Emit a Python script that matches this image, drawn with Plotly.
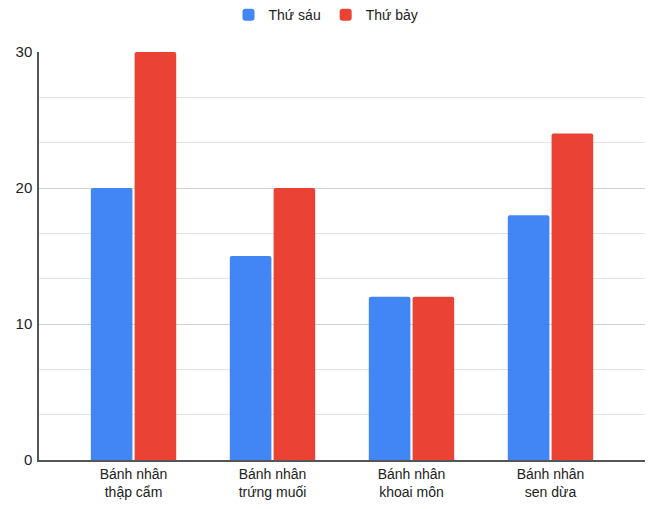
import plotly.graph_objects as go

categories = ["Bánh nhân<br>thập cẩm", "Bánh nhân<br>trứng muối",
              "Bánh nhân<br>khoai môn", "Bánh nhân<br>sen dừa"]
thu_sau = [20, 15, 12, 18]
thu_bay = [30, 20, 12, 24]
y_ticks = [0, 10, 20, 30]

font_family = "Liberation Sans, Arial, sans-serif"

fig = go.Figure()
fig.add_trace(go.Bar(name="Thứ sáu", x=categories, y=thu_sau,
                     marker=dict(color="#4285F4", line=dict(width=0))))
fig.add_trace(go.Bar(name="Thứ bảy", x=categories, y=thu_bay,
                     marker=dict(color="#EA4335", line=dict(width=0))))

fig.update_layout(
    width=652, height=509,
    margin=dict(l=39, r=7, t=52, b=49),
    paper_bgcolor="white", plot_bgcolor="white",
    font=dict(family=font_family, size=14, color="#222222"),
    barmode="group", bargap=0.37, bargroupgap=0.05,
    barcornerradius=2,
    legend=dict(orientation="h", xref="container", yref="container",
                x=0.5, xanchor="center", y=0.97, yanchor="middle",
                font=dict(size=14, color="#222222"),
                itemwidth=30, traceorder="normal"),
    showlegend=True,
)
fig.update_xaxes(
    range=[-0.68, 3.68], showgrid=False, ticks="", tickfont=dict(size=14),
    showline=True, linecolor="#555555", linewidth=1.5,
)
fig.update_yaxes(
    range=[0, 30], tickvals=y_ticks, ticktext=[str(v) for v in y_ticks],
    showgrid=True, gridcolor="#d0d0d0", gridwidth=1,
    minor=dict(tick0=0, dtick=10 / 3, showgrid=True, gridcolor="#e4e4e4", gridwidth=1),
    showline=True, linecolor="#555555", linewidth=1.5, zeroline=False,
    ticks="", ticklabelstandoff=2, tickfont=dict(size=15),
)

fig.write_html("out.html")
